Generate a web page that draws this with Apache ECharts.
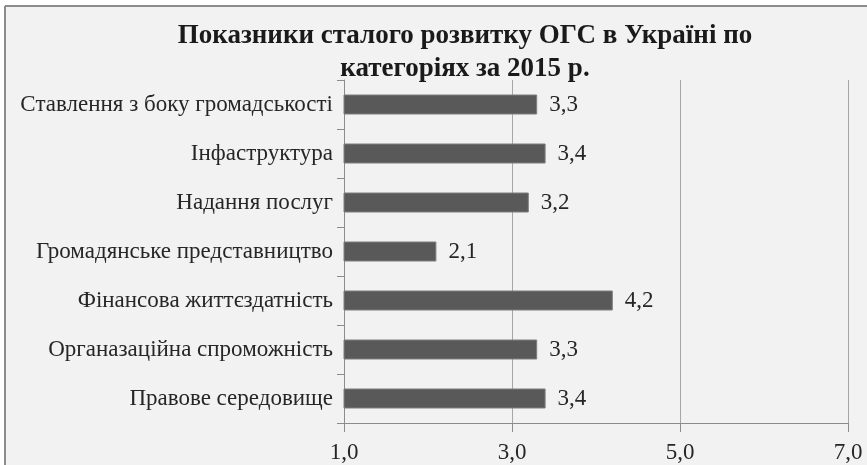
<!DOCTYPE html>
<html><head><meta charset="utf-8">
<script src="https://cdn.jsdelivr.net/npm/echarts@6/dist/echarts.min.js"></script>
<style>html,body{margin:0;padding:0;background:#fff}#c{width:867px;height:465px}</style>
</head><body><div id="c"></div>
<script>
const titleText = 'Показники сталого розвитку ОГС в Україні по\nкатегоріях за 2015 р.';
const categories = ['Правове середовище','Органазаційна спроможність','Фінансова життєздатність','Громадянське представництво','Надання послуг','Інфаструктура','Ставлення з боку громадськості'];
const values = [3.4, 3.3, 4.2, 2.1, 3.2, 3.4, 3.3];
const axisMin = 1, axisMax = 7, axisStep = 2;

const fmt = v => v.toFixed(1).replace('.', ',');
const chart = echarts.init(document.getElementById('c'));
const font = '"Liberation Serif", "DejaVu Serif", serif';
chart.setOption({
  backgroundColor: '#fff',
  graphic: [
    {type:'rect', shape:{x:5,y:6,width:870,height:470}, style:{fill:'#f2f2f2', stroke:null}, z:-10},
    {type:'line', shape:{x1:5,y1:6,x2:5,y2:470}, style:{stroke:'#8c8c8c', lineWidth:2}, z:-9},
    {type:'line', shape:{x1:5,y1:6,x2:870,y2:6}, style:{stroke:'#8c8c8c', lineWidth:2}, z:-9}
  ],
  title: {
    text: titleText, left: 460, top: 15, textAlign: 'center',
    textStyle: {fontFamily: font, fontWeight: 'bold', fontSize: 27, color: '#1a1a1a', lineHeight: 33}
  },
  grid: {left: 344, right: 19, top: 80, bottom: 42},
  xAxis: {
    type: 'value', min: axisMin, max: axisMax, interval: axisStep,
    axisLine: {show: true, lineStyle: {color: '#8c8c8c'}},
    axisTick: {show: true, length: 9, lineStyle: {color: '#8c8c8c'}},
    splitLine: {show: true, lineStyle: {color: '#a6a6a6', width: 1}},
    axisLabel: {formatter: v => fmt(v), fontFamily: font, fontSize: 23, color: '#262626', margin: 18}
  },
  yAxis: {
    type: 'category', data: categories,
    axisLine: {show: true, lineStyle: {color: '#8c8c8c'}},
    axisTick: {show: true, length: 7, lineStyle: {color: '#8c8c8c'}},
    axisLabel: {fontFamily: font, fontSize: 23, color: '#262626', margin: 11}
  },
  series: [{
    type: 'bar', data: values, barWidth: 20,
    itemStyle: {color: '#595959', borderColor: '#7f7f7f', borderWidth: 1},
    label: {show: true, position: 'right', distance: 12, formatter: p => fmt(p.value),
      fontFamily: font, fontSize: 23, color: '#262626'}
  }]
});
</script></body></html>
